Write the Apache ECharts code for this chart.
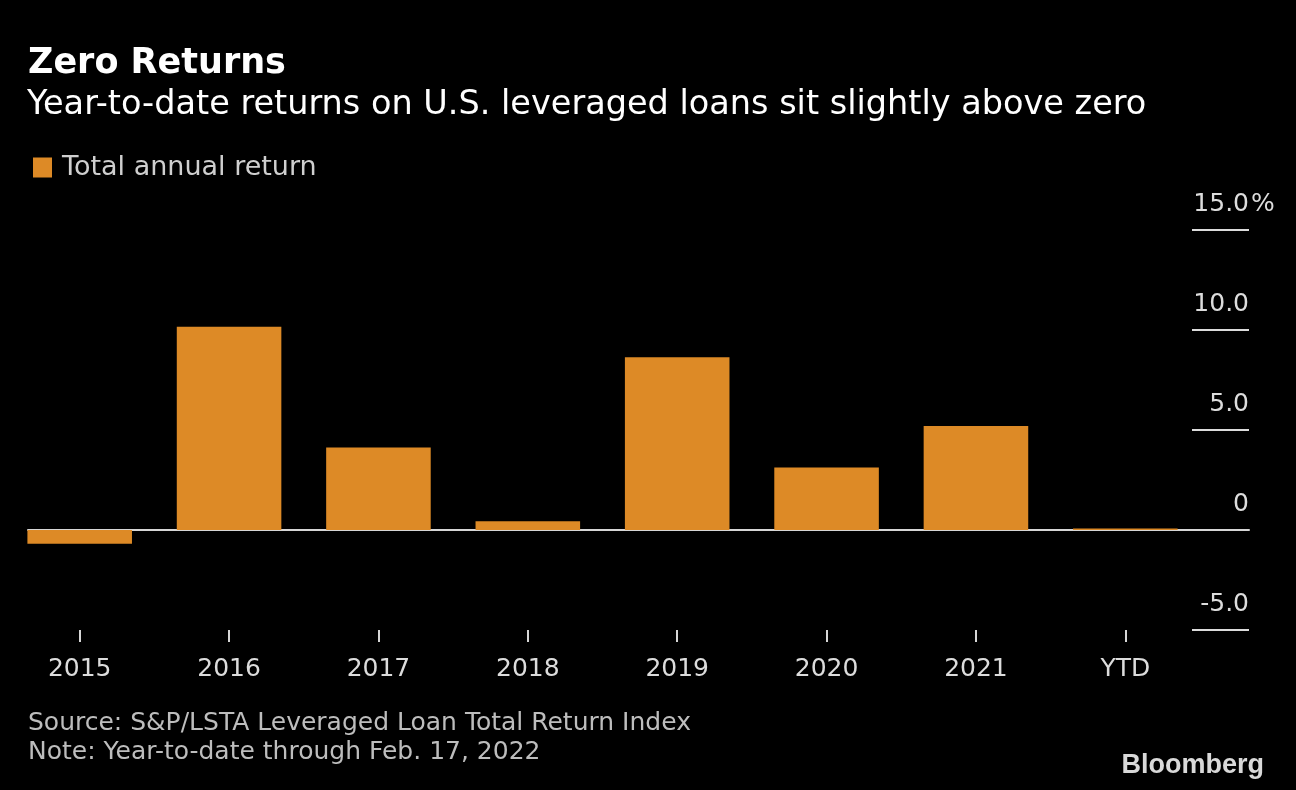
<!DOCTYPE html>
<html>
<head>
<meta charset="utf-8">
<script src="https://cdn.jsdelivr.net/npm/echarts@6/dist/echarts.min.js"></script>
<style>
html,body{margin:0;padding:0;background:#000;}
#chart{width:1296px;height:790px;}
</style>
</head>
<body>
<div id="chart"></div>
<script>
const categories = ['2015','2016','2017','2018','2019','2020','2021','YTD'];
const returns = [-0.69, 10.16, 4.12, 0.44, 8.64, 3.12, 5.20, 0.08];
const yTicks = [-5, 0, 5, 10, 15];
const seriesName = 'Total annual return';

const FONT = '"DejaVu Sans", "Noto Sans", sans-serif';
const BAR = '#dd8a26';
const chart = echarts.init(document.getElementById('chart'), null, {renderer:'canvas'});

function fmt(v){
  if (v === 0) return '0';
  return v.toFixed(1);
}

chart.setOption({
  backgroundColor:'#000',
  animation:false,
  title:[
    {text:'Zero Returns', left:23, top:41, textStyle:{color:'#fff', fontFamily:FONT, fontWeight:'bold', fontSize:35}},
    {text:'Year-to-date returns on U.S. leveraged loans sit slightly above zero', left:22, top:83, textStyle:{color:'#fff', fontFamily:FONT, fontWeight:'normal', fontSize:33.5}},
    {text:'Source: S&P/LSTA Leveraged Loan Total Return Index', left:23, top:706, textStyle:{color:'#bdbdbd', fontFamily:FONT, fontWeight:'normal', fontSize:25}},
    {text:'Note: Year-to-date through Feb. 17, 2022', left:23, top:735, textStyle:{color:'#bdbdbd', fontFamily:FONT, fontWeight:'normal', fontSize:25}},
    {text:'Bloomberg', right:27, top:747, textStyle:{color:'#d9d9d9', fontFamily:'"Liberation Sans", Arial, sans-serif', fontWeight:'bold', fontSize:27}}
  ],
  legend:{
    left:28, top:149, icon:'rect', itemWidth:19, itemHeight:20, itemGap:10,
    textStyle:{color:'#cfcfcf', fontFamily:FONT, fontSize:27, padding:[0,0,0,5]},
    data:[seriesName]
  },
  graphic:[
    {type:'text', left:1251, top:192, style:{text:'%', fill:'#dcdcdc', font:'25px ' + FONT}}
  ],
  grid:[
    {left:5, right:96, top:230, height:400},
    {left:1192, right:47, top:230, height:400},
    {left:28, right:47, top:230, height:400}
  ],
  xAxis:[
    {type:'category', gridIndex:0, data:categories, position:'bottom',
      axisLine:{show:false, onZero:false},
      axisTick:{show:true, alignWithLabel:true, length:12, inside:false, lineStyle:{color:'#d6d6d6', width:2}},
      axisLabel:{show:true, margin:27, color:'#dcdcdc', fontFamily:FONT, fontSize:25}},
    {type:'value', gridIndex:1, min:0, max:1, show:false},
    {type:'value', gridIndex:2, min:0, max:1, show:true,
      axisLine:{show:true, onZero:true, lineStyle:{color:'#d6d6d6', width:2}},
      axisTick:{show:false}, axisLabel:{show:false}, splitLine:{show:false}}
  ],
  yAxis:[
    {type:'value', gridIndex:0, min:-5, max:15, interval:5, show:false},
    {type:'value', gridIndex:1, min:-5, max:15, interval:5, position:'right',
      axisLine:{show:false}, axisTick:{show:false},
      splitLine:{show:true, lineStyle:{color:'#dcdcdc', width:2}},
      axisLabel:{show:true, inside:true, margin:0, align:'right', verticalAlign:'bottom', padding:[0,0,13,0],
        color:'#dcdcdc', fontFamily:FONT, fontSize:25,
        formatter:function(v){ return yTicks.indexOf(v) >= 0 ? fmt(v) : ''; }}
    },
    {type:'value', gridIndex:2, min:-5, max:15, interval:5, show:false}
  ],
  series:[
    {name:seriesName, type:'bar', xAxisIndex:0, yAxisIndex:0, data:returns, barWidth:'70%',
      itemStyle:{color:BAR}, z:5}
  ]
});
</script>
</body>
</html>
